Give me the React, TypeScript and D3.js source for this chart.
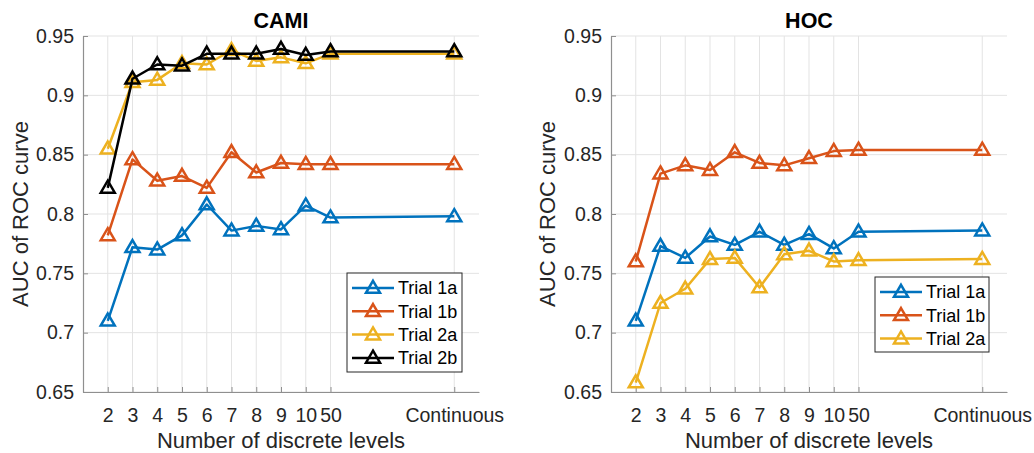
import React, { useEffect, useRef } from 'react';
import * as d3 from 'd3';

const levelLabels = ['2', '3', '4', '5', '6', '7', '8', '9', '10', '50', 'Continuous'];
const levelPos = [2, 3, 4, 5, 6, 7, 8, 9, 10, 11, 16];
const yTicks = [0.65, 0.7, 0.75, 0.8, 0.85, 0.9, 0.95];

const camiTrial1a = [0.71, 0.772, 0.77, 0.782, 0.808, 0.786, 0.79, 0.787, 0.807, 0.797, 0.798];
const camiTrial1b = [0.782, 0.846, 0.828, 0.832, 0.822, 0.852, 0.835, 0.843, 0.842, 0.842, 0.842];
const camiTrial2a = [0.855, 0.911, 0.913, 0.927, 0.926, 0.938, 0.929, 0.932, 0.927, 0.935, 0.935];
const camiTrial2b = [0.822, 0.914, 0.926, 0.925, 0.935, 0.935, 0.935, 0.939, 0.934, 0.937, 0.937];

const hocTrial1a = [0.71, 0.773, 0.763, 0.781, 0.774, 0.785, 0.774, 0.783, 0.771, 0.785, 0.786];
const hocTrial1b = [0.76, 0.834, 0.841, 0.837, 0.852, 0.843, 0.841, 0.847, 0.853, 0.854, 0.854];
const hocTrial2a = [0.658, 0.725, 0.737, 0.762, 0.763, 0.738, 0.766, 0.769, 0.76, 0.761, 0.762];

const colors = {
  'Trial 1a': '#0072BD',
  'Trial 1b': '#D95319',
  'Trial 2a': '#EDB120',
  'Trial 2b': '#000000',
};

const FONT = '"Liberation Sans", Arial, Helvetica, sans-serif';
const TXT = '#262626';

type Series = { name: string; values: number[] };

function trianglePath(cx: number, cy: number) {
  const w = 7;
  const h = 12;
  return `M${cx},${cy - h * 0.6}L${cx + w},${cy + h * 0.4}L${cx - w},${cy + h * 0.4}Z`;
}

function drawPanel(
  svg: d3.Selection<SVGSVGElement, unknown, null, undefined>,
  opts: {
    left: number;
    right: number;
    title: string;
    series: Series[];
    legend: { x0: number; x1: number; y0: number; y1: number };
    ylabelX: number;
  }
) {
  const top = 36;
  const bottom = 392;
  const x = d3.scaleLinear().domain([1, 17]).range([opts.left, opts.right]);
  const y = d3.scaleLinear().domain([0.65, 0.95]).range([bottom, top]);
  const g = svg.append('g');

  // grid
  g.selectAll('.vgrid')
    .data(levelPos)
    .enter()
    .append('line')
    .attr('x1', d => x(d))
    .attr('x2', d => x(d))
    .attr('y1', top)
    .attr('y2', bottom)
    .attr('stroke', '#e3e3e3')
    .attr('stroke-width', 1);
  g.selectAll('.hgrid')
    .data(yTicks)
    .enter()
    .append('line')
    .attr('x1', opts.left)
    .attr('x2', opts.right)
    .attr('y1', d => y(d))
    .attr('y2', d => y(d))
    .attr('stroke', '#e3e3e3')
    .attr('stroke-width', 1);

  // axes
  const xAxis = d3
    .axisBottom(x)
    .tickValues(levelPos)
    .tickFormat((d, i) => levelLabels[i])
    .tickSizeInner(-5)
    .tickSizeOuter(0);
  const xg = g.append('g').attr('transform', `translate(0,${bottom})`).call(xAxis);
  const yAxis = d3
    .axisLeft(y)
    .tickValues(yTicks)
    .tickFormat(d => String(+d))
    .tickSizeInner(-5)
    .tickSizeOuter(0)
    .tickPadding(9);
  const yg = g.append('g').attr('transform', `translate(${opts.left},0)`).call(yAxis);
  [xg, yg].forEach(a => {
    a.select('.domain').attr('stroke', '#8f8f8f').attr('stroke-width', 1.2);
    a.selectAll('.tick line').attr('stroke', '#8f8f8f');
    a.selectAll('.tick text').attr('fill', TXT).attr('font-size', 19.5).attr('font-family', FONT);
  });
  xg.selectAll('.tick text').attr('y', 16).attr('dy', '0.71em');

  // series
  const line = d3
    .line<number>()
    .x((d, i) => x(levelPos[i]))
    .y(d => y(d));
  opts.series.forEach(s => {
    const c = colors[s.name as keyof typeof colors];
    g.append('path')
      .attr('d', line(s.values))
      .attr('fill', 'none')
      .attr('stroke', c)
      .attr('stroke-width', 2.5)
      .attr('stroke-linejoin', 'round');
    g.selectAll(null)
      .data(s.values)
      .enter()
      .append('path')
      .attr('d', (d, i) => trianglePath(x(levelPos[i]), y(d)))
      .attr('fill', 'none')
      .attr('stroke', c)
      .attr('stroke-width', 2.5)
      .attr('stroke-linejoin', 'miter');
  });

  // title
  g.append('text')
    .attr('x', (opts.left + opts.right) / 2)
    .attr('y', 28)
    .attr('text-anchor', 'middle')
    .attr('font-family', FONT)
    .attr('font-weight', 'bold')
    .attr('font-size', 21.5)
    .attr('fill', '#000')
    .text(opts.title);

  // axis labels
  g.append('text')
    .attr('x', (opts.left + opts.right) / 2)
    .attr('y', 448)
    .attr('text-anchor', 'middle')
    .attr('font-family', FONT)
    .attr('font-size', 22)
    .attr('fill', TXT)
    .text('Number of discrete levels');
  g.append('text')
    .attr('transform', `translate(${opts.ylabelX},${(top + bottom) / 2}) rotate(-90)`)
    .attr('text-anchor', 'middle')
    .attr('dy', '0.35em')
    .attr('font-family', FONT)
    .attr('font-size', 22)
    .attr('fill', TXT)
    .text('AUC of ROC curve');

  // legend
  const L = opts.legend;
  g.append('rect')
    .attr('x', L.x0)
    .attr('y', L.y0)
    .attr('width', L.x1 - L.x0)
    .attr('height', L.y1 - L.y0)
    .attr('fill', '#fff')
    .attr('stroke', '#262626')
    .attr('stroke-width', 1);
  const step = 23.3;
  opts.series.forEach((s, i) => {
    const c = colors[s.name as keyof typeof colors];
    const cy = L.y0 + 15 + i * step;
    g.append('line')
      .attr('x1', L.x0 + 5)
      .attr('x2', L.x0 + 47)
      .attr('y1', cy)
      .attr('y2', cy)
      .attr('stroke', c)
      .attr('stroke-width', 2.5);
    g.append('path')
      .attr('d', trianglePath(L.x0 + 26, cy))
      .attr('fill', 'none')
      .attr('stroke', c)
      .attr('stroke-width', 2.5);
    g.append('text')
      .attr('x', L.x0 + 51)
      .attr('y', cy)
      .attr('dy', '0.35em')
      .attr('font-family', FONT)
      .attr('font-size', 18)
      .attr('fill', '#000')
      .text(s.name);
  });
}

function Chart() {
  const svgRef = useRef<SVGSVGElement>(null);

  useEffect(() => {
    const svg = d3.select(svgRef.current as SVGSVGElement);
    svg.selectAll('*').remove();

    drawPanel(svg, {
      left: 83,
      right: 479,
      title: 'CAMI',
      series: [
        { name: 'Trial 1a', values: camiTrial1a },
        { name: 'Trial 1b', values: camiTrial1b },
        { name: 'Trial 2a', values: camiTrial2a },
        { name: 'Trial 2b', values: camiTrial2b },
      ],
      legend: { x0: 347, x1: 462, y0: 273, y1: 372 },
      ylabelX: 20,
    });

    drawPanel(svg, {
      left: 611,
      right: 1007,
      title: 'HOC',
      series: [
        { name: 'Trial 1a', values: hocTrial1a },
        { name: 'Trial 1b', values: hocTrial1b },
        { name: 'Trial 2a', values: hocTrial2a },
      ],
      legend: { x0: 875, x1: 989, y0: 277, y1: 352 },
      ylabelX: 547,
    });
  }, []);

  return (
    <svg
      ref={svgRef}
      width={1034}
      height={453}
      style={{ position: 'absolute', left: 0, top: 0, background: '#fff' }}
    />
  );
}

export default function App() {
  return <Chart />;
}
